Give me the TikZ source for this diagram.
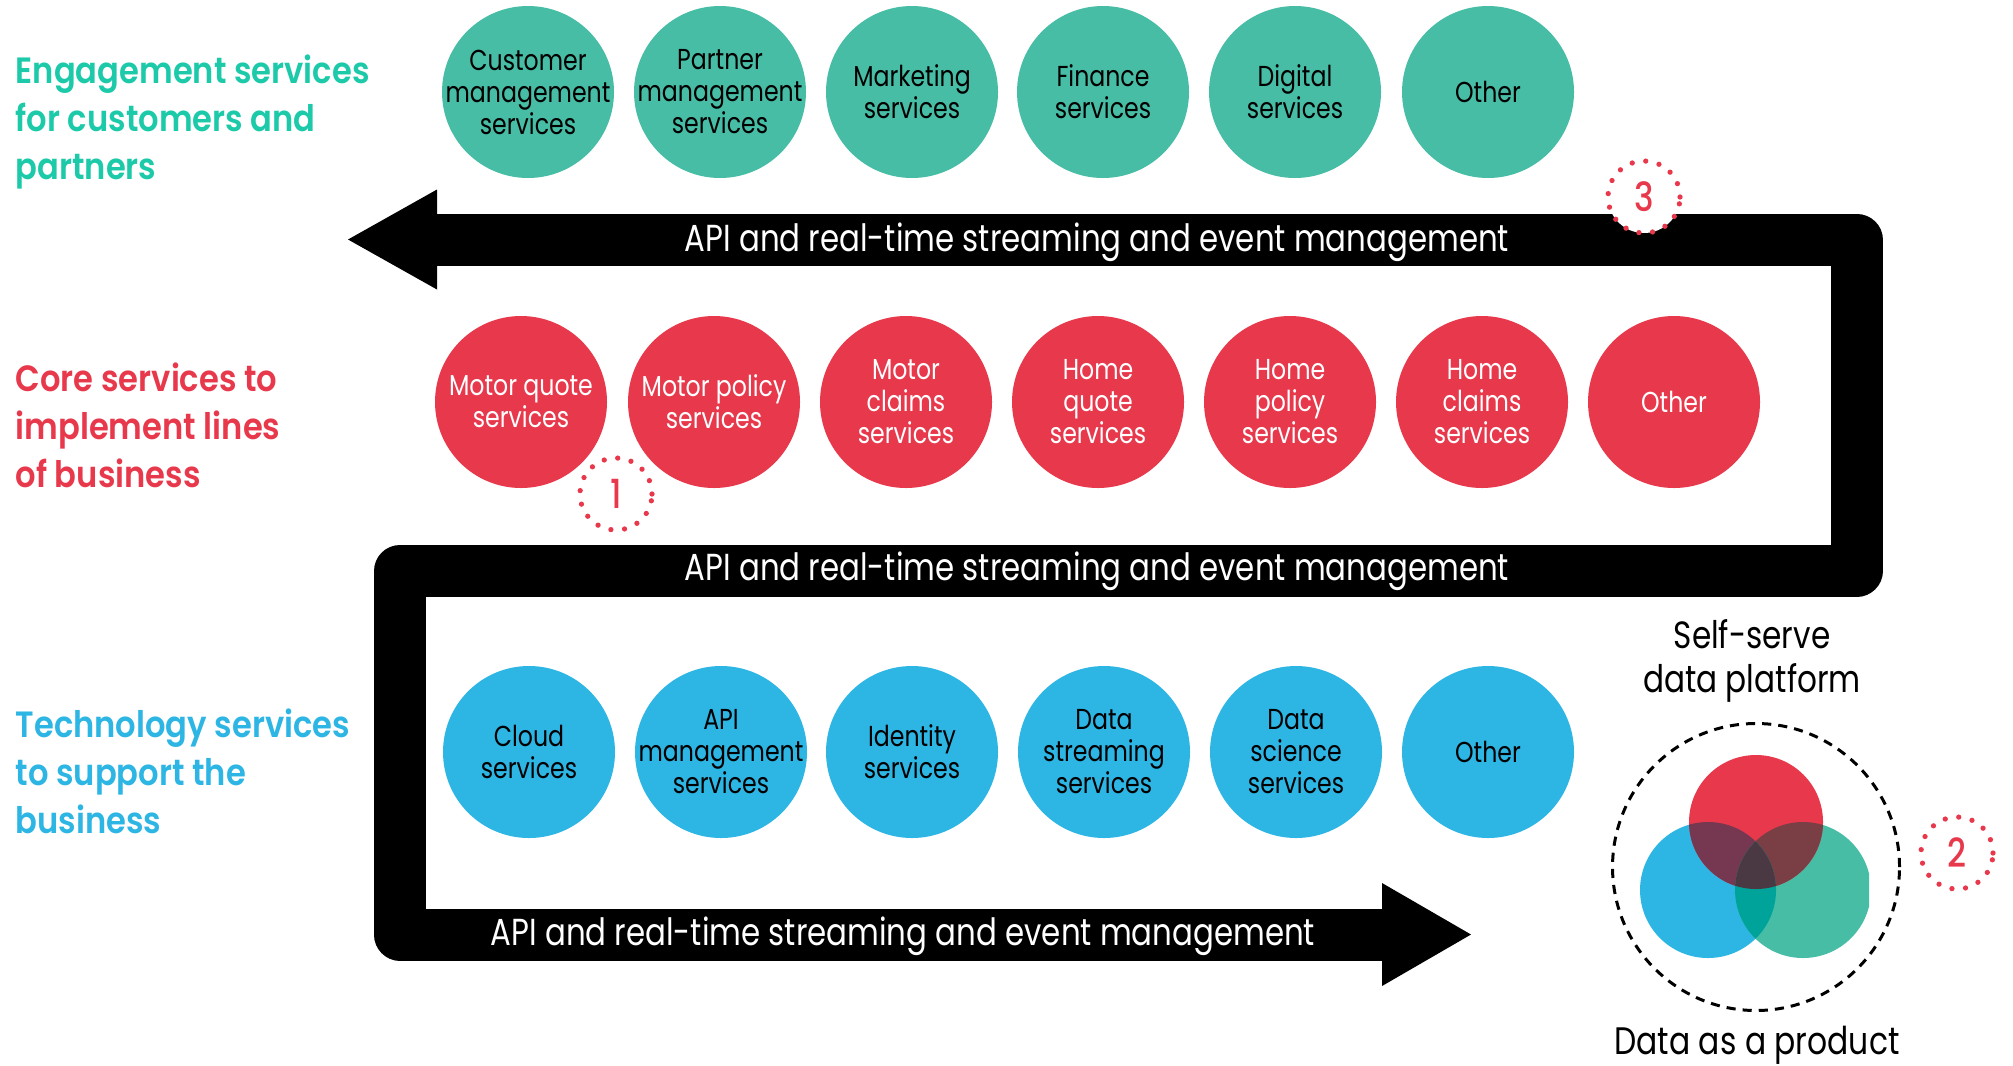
\documentclass[tikz,border=0pt]{standalone}
\usepackage{fontspec}
\setmainfont{Poppins}[FakeStretch=0.82]
\newfontfamily\headfont{Poppins SemiBold}[FakeStretch=0.88]
\newfontfamily\badgefont{Poppins Medium}[FakeStretch=0.82]
\usetikzlibrary{arrows.meta}

\definecolor{engc}{HTML}{47BDA5}
\definecolor{engt}{HTML}{1CCAA9}
\definecolor{corec}{HTML}{E8394C}
\definecolor{techc}{HTML}{2DB5E4}
\definecolor{rb}{HTML}{763850}
\definecolor{rg}{HTML}{793F45}
\definecolor{bg}{HTML}{00A39A}
\definecolor{rbg}{HTML}{4A3843}

\begin{document}
\begin{tikzpicture}[
  svc/.style={circle,minimum size=1.72cm,inner sep=-3mm,align=center,
    font=\fontsize{8.2}{9.1}\selectfont},
  eng/.style={svc,fill=engc,text=black},
  core/.style={svc,fill=corec,text=white},
  tech/.style={svc,fill=techc,text=black},
  head/.style={anchor=west,align=left,inner sep=0pt,font=\headfont\fontsize{10.4}{13.7}\selectfont},
  buslabel/.style={text=white,font=\fontsize{10.7}{12}\selectfont},
  badge/.style={circle,minimum size=0.72cm,inner sep=0pt,fill=white,draw=corec,
    line width=1.5pt,dash pattern=on 0pt off 3.9pt,line cap=round,text=corec,
    font=\badgefont\fontsize{11.4}{12}\selectfont},
  bus/.style={line width=0.52cm,line join=round,
    {Triangle[length=0.89cm,width=1.0cm,line width=0pt]}-{Triangle[length=0.89cm,width=1.03cm,line width=0pt]}}
]
\useasboundingbox (0,0) rectangle (20.13,-10.65);

% row headings
\node[head,text=engt] (h1) at (0.15,-1.22) {Engagement services\\for customers and\\partners};
\node[head,text=corec] (h2) at (0.15,-4.25) {Core services to\\implement lines\\of business};
\node[head,text=techc] (h3) at (0.15,-7.71) {Technology services\\to support the\\business};

% the event bus winding between the rows
\coordinate (tipL) at (3.48,-2.395);
\coordinate (ne) at (18.565,-2.395);
\coordinate (se) at (18.565,-5.71);
\coordinate (sw) at (4.00,-5.71);
\coordinate (bw) at (4.00,-9.345);
\coordinate (tipR) at (14.71,-9.345);
\draw[bus] (tipL) -- (ne) -- (se) -- (sw) -- (bw) -- (tipR);

\node[buslabel] (b1) at (10.97,-2.42) {API and real-time streaming and event management};
\node[buslabel] (b2) at (10.97,-5.71) {API and real-time streaming and event management};
\node[buslabel] (b3) at (9.03,-9.36) {API and real-time streaming and event management};

% engagement services
\node[eng] (e1) at (5.28,-0.92) {Customer\\management\\services};
\node[eng] (e2) at (7.20,-0.92) {Partner\\management\\services};
\node[eng] (e3) at (9.12,-0.92) {Marketing\\services};
\node[eng] (e4) at (11.03,-0.92) {Finance\\services};
\node[eng] (e5) at (12.95,-0.92) {Digital\\services};
\node[eng] (e6) at (14.88,-0.92) {Other};

% core services
\node[core] (c1) at (5.21,-4.02) {Motor quote\\services};
\node[core] (c2) at (7.14,-4.02) {Motor policy\\services};
\node[core] (c3) at (9.06,-4.02) {Motor\\claims\\services};
\node[core] (c4) at (10.98,-4.02) {Home\\quote\\services};
\node[core] (c5) at (12.90,-4.02) {Home\\policy\\services};
\node[core] (c6) at (14.82,-4.02) {Home\\claims\\services};
\node[core] (c7) at (16.74,-4.02) {Other};

% technology services
\node[tech] (t1) at (5.29,-7.52) {Cloud\\services};
\node[tech] (t2) at (7.21,-7.52) {API\\management\\services};
\node[tech] (t3) at (9.12,-7.52) {Identity\\services};
\node[tech] (t4) at (11.04,-7.52) {Data\\streaming\\services};
\node[tech] (t5) at (12.96,-7.52) {Data\\science\\services};
\node[tech] (t6) at (14.88,-7.52) {Other};

% data platform
\node[font=\fontsize{10.8}{12.4}\selectfont,align=center] (p) at (17.52,-6.61) {Self-serve\\data platform};
\draw[line width=0.85pt,dash pattern=on 2.6pt off 2pt] (17.56,-8.67) circle (1.435);
\coordinate (vr) at (17.56,-8.22);
\coordinate (vb) at (17.08,-8.90);
\coordinate (vg) at (18.03,-8.90);
\begin{scope}
  \clip (15,-6.9) rectangle (18.69,-10.2);
  \fill[techc] (vb) circle (0.68);
  \fill[engc] (vg) circle (0.68);
  \fill[corec] (vr) circle (0.67);
  \begin{scope}
    \clip (vr) circle (0.67);
    \fill[rb] (vb) circle (0.68);
    \fill[rg] (vg) circle (0.68);
  \end{scope}
  \begin{scope}
    \clip (vb) circle (0.68);
    \fill[bg] (vg) circle (0.68);
    \clip (vg) circle (0.68);
    \fill[rbg] (vr) circle (0.67);
  \end{scope}
\end{scope}
\node[font=\fontsize{10.9}{12}\selectfont] (dp) at (17.57,-10.45) {Data as a product};

% numbered markers
\node[badge] (n1) at (6.16,-4.94) {1};
\node[badge] (n2) at (19.57,-8.53) {2};
\node[badge] (n3) at (16.44,-1.97) {3};
\end{tikzpicture}
\end{document}
